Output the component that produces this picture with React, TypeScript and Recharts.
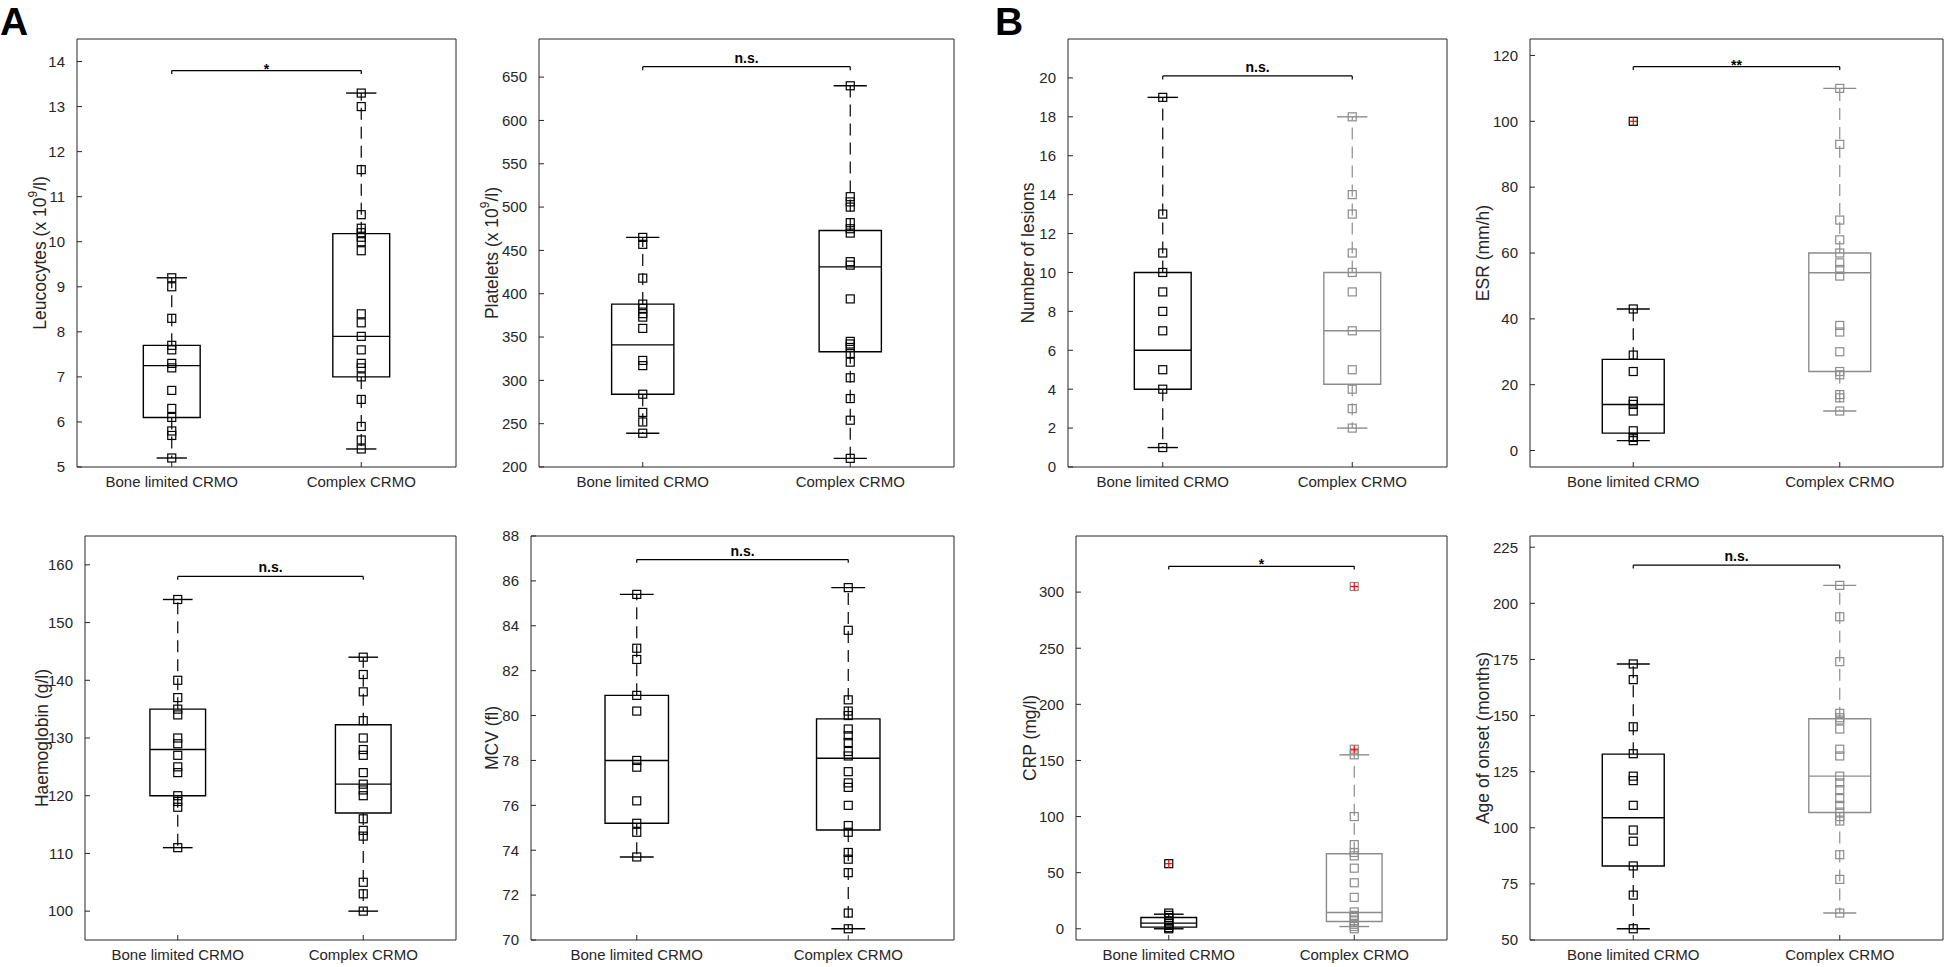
import React from "react";
import {
  ComposedChart,
  XAxis,
  YAxis,
  Scatter,
  ReferenceArea,
  ReferenceLine,
} from "recharts";

const categories = ["Bone limited CRMO", "Complex CRMO"];

// box stats are [lower whisker, q1, median, q3, upper whisker]
const leucoBone = [9.2, 9.0, 8.3, 7.7, 7.6, 7.3, 7.2, 6.7, 6.3, 6.1, 5.8, 5.7, 5.2];
const leucoBoneBox = [5.2, 6.1, 7.25, 7.7, 9.2];
const leucoComplex = [13.3, 13.0, 11.6, 10.6, 10.3, 10.2, 10.1, 10.0, 9.8, 8.4, 8.2, 7.9, 7.6, 7.3, 7.2, 7.0, 6.5, 5.9, 5.6, 5.4];
const leucoComplexBox = [5.4, 7.0, 7.9, 10.18, 13.3];
const leucoTicks = [5, 6, 7, 8, 9, 10, 11, 12, 13, 14];

const pltBone = [465, 457, 418, 388, 383, 377, 373, 360, 323, 317, 284, 263, 252, 239];
const pltBoneBox = [239, 284, 341, 388, 465];
const pltComplex = [640, 512, 506, 500, 482, 475, 470, 437, 433, 394, 345, 342, 338, 331, 321, 303, 279, 254, 210];
const pltComplexBox = [210, 333, 431, 473, 640];
const pltTicks = [200, 250, 300, 350, 400, 450, 500, 550, 600, 650];

const lesBone = [19, 13, 11, 10, 9, 8, 7, 5, 4, 1];
const lesBoneBox = [1, 4, 6, 10, 19];
const lesComplex = [18, 14, 13, 11, 10, 9, 7, 5, 4, 3, 2];
const lesComplexBox = [2, 4.25, 7, 10, 18];
const lesTicks = [0, 2, 4, 6, 8, 10, 12, 14, 16, 18, 20];

const esrBone = [100, 43, 29, 24, 15, 14, 12, 6, 4, 3];
const esrBoneBox = [3, 5.3, 14, 27.7, 43];
const esrBoneOut = [100];
const esrComplex = [110, 93, 70, 64, 60, 57, 55, 53, 38, 36, 30, 24, 23, 17, 16, 12];
const esrComplexBox = [12, 24, 54, 60, 110];
const esrTicks = [0, 20, 40, 60, 80, 100, 120];

const hbBone = [154, 140, 137, 135, 134, 130, 129, 127, 125, 124, 120, 119, 118, 111];
const hbBoneBox = [111, 120, 128, 135, 154];
const hbComplex = [144, 141, 138, 133, 130, 128, 127, 124, 122, 121, 120, 116, 114, 113, 105, 103, 100];
const hbComplexBox = [100, 117, 122, 132.3, 144];
const hbTicks = [100, 110, 120, 130, 140, 150, 160];

const mcvBone = [85.4, 83.0, 82.5, 80.9, 80.2, 78.0, 77.7, 76.2, 75.2, 74.8, 73.7];
const mcvBoneBox = [73.7, 75.2, 78.0, 80.9, 85.4];
const mcvComplex = [85.7, 83.8, 80.7, 80.2, 80.0, 79.4, 79.1, 78.8, 78.4, 78.2, 77.5, 77.0, 76.8, 76.0, 75.1, 74.8, 73.9, 73.6, 73.0, 71.2, 70.5];
const mcvComplexBox = [70.5, 74.9, 78.1, 79.85, 85.7];
const mcvTicks = [70, 72, 74, 76, 78, 80, 82, 84, 86, 88];

const crpBone = [58, 14, 12, 10, 7, 5, 3, 1, 0];
const crpBoneBox = [0, 1.5, 5, 10, 13];
const crpBoneOut = [58];
const crpComplex = [305, 160, 155, 100, 75, 68, 65, 54, 41, 28, 15, 12, 10, 7, 4, 2, 0];
const crpComplexBox = [2, 6.5, 14.5, 66.8, 155];
const crpComplexOut = [305, 160];
const crpTicks = [0, 50, 100, 150, 200, 250, 300];

const ageBone = [173, 166, 145, 133, 123, 121, 110, 99, 94, 83, 70, 55];
const ageBoneBox = [55, 83, 104.5, 132.8, 173];
const ageComplex = [208, 194, 174, 151, 149, 148, 144, 135, 132, 123, 120, 117, 113, 110, 107, 105, 103, 88, 77, 62];
const ageComplexBox = [62, 106.8, 123, 148.6, 208];
const ageTicks = [50, 75, 100, 125, 150, 175, 200, 225];

const sigHeights = [13.8, 662, 20.1, 116.6, 158, 86.95, 323, 217];
const sigLabels = ["*", "n.s.", "n.s.", "**", "n.s.", "n.s.", "*", "n.s."];

const AXIS = "#262626";
const BLACK = "#000000";
const GRAY = "#8c8c8c";
const RED = "#ff0000";

const panels = [
  { frame: [77, 39, 456, 467], domain: [5, 14.5], ticks: leucoTicks, title: ["Leucocytes (x 10", "9", "/l)"], titleDist: 37,
    groups: [{ pts: leucoBone, box: leucoBoneBox, out: [], color: BLACK }, { pts: leucoComplex, box: leucoComplexBox, out: [], color: BLACK }] },
  { frame: [539, 39, 954, 467], domain: [200, 694], ticks: pltTicks, title: ["Platelets (x 10", "9", "/l)"], titleDist: 47,
    groups: [{ pts: pltBone, box: pltBoneBox, out: [], color: BLACK }, { pts: pltComplex, box: pltComplexBox, out: [], color: BLACK }] },
  { frame: [1068, 39, 1447, 467], domain: [0, 22], ticks: lesTicks, title: ["Number of lesions"], titleDist: 40,
    groups: [{ pts: lesBone, box: lesBoneBox, out: [], color: BLACK }, { pts: lesComplex, box: lesComplexBox, out: [], color: GRAY }] },
  { frame: [1530, 39, 1943, 467], domain: [-5, 125], ticks: esrTicks, title: ["ESR (mm/h)"], titleDist: 47,
    groups: [{ pts: esrBone, box: esrBoneBox, out: esrBoneOut, color: BLACK }, { pts: esrComplex, box: esrComplexBox, out: [], color: GRAY }] },
  { frame: [85, 536, 456, 940], domain: [95, 165], ticks: hbTicks, title: ["Haemoglobin (g/l)"], titleDist: 43,
    groups: [{ pts: hbBone, box: hbBoneBox, out: [], color: BLACK }, { pts: hbComplex, box: hbComplexBox, out: [], color: BLACK }] },
  { frame: [531, 536, 954, 940], domain: [70, 88], ticks: mcvTicks, title: ["MCV (fl)"], titleDist: 39,
    groups: [{ pts: mcvBone, box: mcvBoneBox, out: [], color: BLACK }, { pts: mcvComplex, box: mcvComplexBox, out: [], color: BLACK }] },
  { frame: [1076, 536, 1447, 940], domain: [-10, 350], ticks: crpTicks, title: ["CRP (mg/l)"], titleDist: 46,
    groups: [{ pts: crpBone, box: crpBoneBox, out: crpBoneOut, color: BLACK }, { pts: crpComplex, box: crpComplexBox, out: crpComplexOut, color: GRAY }] },
  { frame: [1530, 536, 1943, 940], domain: [50, 230], ticks: ageTicks, title: ["Age of onset (months)"], titleDist: 47,
    groups: [{ pts: ageBone, box: ageBoneBox, out: [], color: BLACK }, { pts: ageComplex, box: ageComplexBox, out: [], color: GRAY }] },
];

const YTitle = (props: any) => {
  const { viewBox, parts, dist } = props;
  if (!viewBox) return null;
  const x = viewBox.x + viewBox.width - dist;
  const y = viewBox.y + viewBox.height / 2;
  return (
    <text x={x} y={y} transform={`rotate(-90, ${x}, ${y})`} textAnchor="middle" dominantBaseline="central" fontSize={17.5} fill={AXIS}>
      {parts[0]}
      {parts.length > 1 && (
        <>
          <tspan dy={-7} fontSize={12}>{parts[1]}</tspan>
          <tspan dy={7}>{parts[2]}</tspan>
        </>
      )}
    </text>
  );
};

const squareShape = (color: string) => (p: any) =>
  <rect x={p.cx - 4} y={p.cy - 4} width={8} height={8} fill="none" stroke={color} strokeWidth={1.2} />;

const plusShape = (p: any) => (
  <g stroke={RED} strokeWidth={1.2}>
    <line x1={p.cx - 4} y1={p.cy} x2={p.cx + 4} y2={p.cy} />
    <line x1={p.cx} y1={p.cy - 4} x2={p.cx} y2={p.cy + 4} />
  </g>
);

const BoxPanel = ({ cfg, idx }: any) => {
  const [L, T, R, B] = cfg.frame;
  // left axis 80, top axis 1, right axis 1, bottom axis 40
  const w = 80 + (R - L) + 1 + 1;
  const h = 19 + 1 + (B - T) + 40;
  const span = cfg.domain[1] - cfg.domain[0];
  const drop = span * 0.008;
  const sy = sigHeights[idx];
  const lbl = sigLabels[idx];
  const tickStyle = { fill: AXIS, fontSize: 15 };

  return (
    <div style={{ position: "absolute", left: L - 80, top: T - 20 }}>
      <ComposedChart width={w} height={h} margin={{ top: 19, right: 1, bottom: 0, left: 0 }}>
        <XAxis dataKey="x" type="number" domain={[0.5, 2.5]} ticks={[1, 2]} allowDataOverflow
          height={40} tickSize={-5} tickMargin={14} tick={tickStyle}
          tickFormatter={(v: number) => categories[v - 1]}
          axisLine={{ stroke: AXIS }} tickLine={{ stroke: AXIS }} interval={0} />
        <XAxis xAxisId="t" orientation="top" type="number" domain={[0.5, 2.5]} ticks={[1, 2]} allowDataOverflow
          height={1} tickSize={-5} tick={false} axisLine={{ stroke: AXIS }} tickLine={{ stroke: AXIS }} interval={0} />
        <YAxis dataKey="y" type="number" domain={cfg.domain} ticks={cfg.ticks} allowDataOverflow
          width={80} tickSize={-5} tickMargin={17} tick={tickStyle} interval={0}
          axisLine={{ stroke: AXIS }} tickLine={{ stroke: AXIS }}
          label={<YTitle parts={cfg.title} dist={cfg.titleDist} />} />
        <YAxis yAxisId="r" orientation="right" type="number" domain={cfg.domain} ticks={cfg.ticks} allowDataOverflow
          width={1} tickSize={-5} tick={false} axisLine={{ stroke: AXIS }} tickLine={{ stroke: AXIS }} interval={0} />

        {cfg.groups.map((g: any, i: number) => {
          const c = i + 1;
          const [lo, q1, med, q3, hi] = g.box;
          return (
            <React.Fragment key={"b" + i}>
              <ReferenceArea x1={c - 0.15} x2={c + 0.15} y1={q1} y2={q3} fill="none" fillOpacity={0}
                stroke={g.color} strokeWidth={1.4} strokeOpacity={1} ifOverflow="visible" />
              <ReferenceLine segment={[{ x: c - 0.15, y: med }, { x: c + 0.15, y: med }]} stroke={g.color} strokeWidth={1.4} />
              <ReferenceLine segment={[{ x: c, y: q3 }, { x: c, y: hi }]} stroke={g.color} strokeWidth={1.2} strokeDasharray="12 7" />
              <ReferenceLine segment={[{ x: c, y: q1 }, { x: c, y: lo }]} stroke={g.color} strokeWidth={1.2} strokeDasharray="12 7" />
              <ReferenceLine segment={[{ x: c - 0.08, y: hi }, { x: c + 0.08, y: hi }]} stroke={g.color} strokeWidth={1.4} />
              <ReferenceLine segment={[{ x: c - 0.08, y: lo }, { x: c + 0.08, y: lo }]} stroke={g.color} strokeWidth={1.4} />
            </React.Fragment>
          );
        })}

        {cfg.groups.map((g: any, i: number) => (
          <Scatter key={"s" + i} data={g.pts.map((v: number) => ({ x: i + 1, y: v }))} dataKey="y"
            shape={squareShape(g.color)} isAnimationActive={false} />
        ))}
        {cfg.groups.map((g: any, i: number) =>
          g.out.length ? (
            <Scatter key={"o" + i} data={g.out.map((v: number) => ({ x: i + 1, y: v }))} dataKey="y"
              shape={plusShape} isAnimationActive={false} />
          ) : null
        )}

        <ReferenceLine segment={[{ x: 1, y: sy }, { x: 2, y: sy }]} stroke={BLACK} strokeWidth={1.2}
          label={{ value: lbl, position: "top", offset: lbl.startsWith("*") ? -3 : 4, fontSize: 14, fontWeight: "bold", fill: BLACK }} />
        <ReferenceLine segment={[{ x: 1, y: sy }, { x: 1, y: sy - drop }]} stroke={BLACK} strokeWidth={1.2} />
        <ReferenceLine segment={[{ x: 2, y: sy }, { x: 2, y: sy - drop }]} stroke={BLACK} strokeWidth={1.2} />
      </ComposedChart>
    </div>
  );
};

export default function App() {
  return (
    <div style={{ position: "absolute", left: 0, top: 0, width: 1945, height: 967, overflow: "hidden", background: "#fff",
      fontFamily: "'Liberation Sans', Arial, Helvetica, sans-serif" }}>
      <svg width={1945} height={967} style={{ position: "absolute", left: 0, top: 0 }}>
        <text x={0} y={35} fontSize={39} fontWeight="bold" fill={BLACK}>A</text>
        <text x={995} y={35} fontSize={39} fontWeight="bold" fill={BLACK}>B</text>
      </svg>
      {panels.map((p, i) => (
        <BoxPanel key={i} cfg={p} idx={i} />
      ))}
    </div>
  );
}
